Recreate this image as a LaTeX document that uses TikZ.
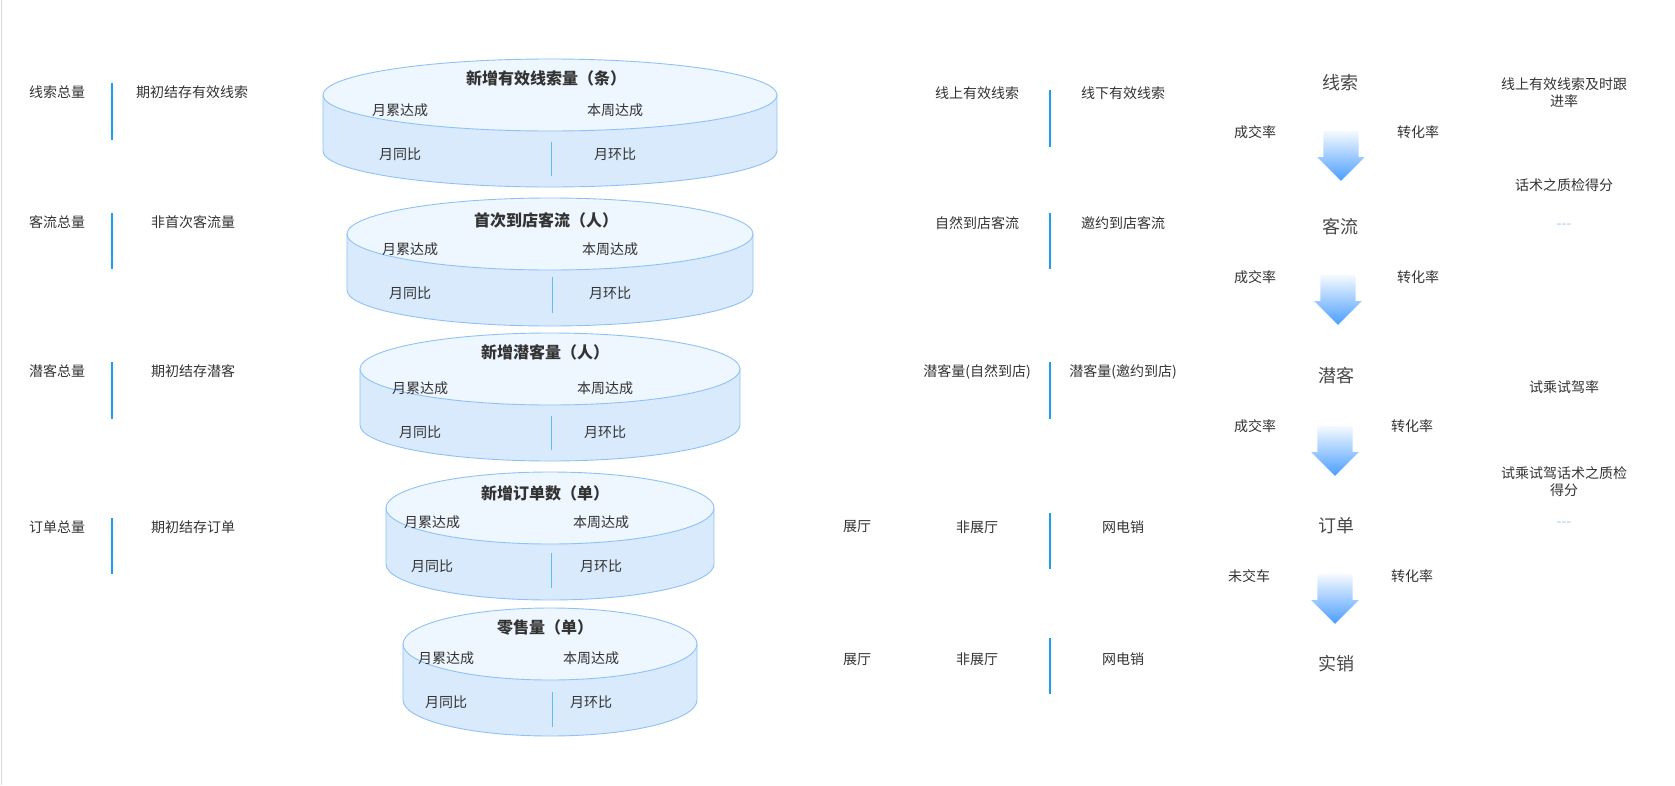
\documentclass[tikz,border=0pt]{standalone}
\usepackage{fontspec}
\setmainfont{Noto Sans CJK SC}
\usetikzlibrary{shapes.arrows}

\definecolor{barblue}{HTML}{1E9EF0}
\definecolor{cylline}{HTML}{8EC2F6}
\definecolor{cyltopfill}{HTML}{EEF6FF}
\definecolor{cylsidefill}{HTML}{D9EAFC}
\definecolor{txtgray}{HTML}{333333}
\definecolor{arrowblue}{HTML}{4A9DFF}
\definecolor{dashblue}{HTML}{9CC6F2}

\begin{document}
\begin{tikzpicture}[x=1pt, y=-1pt,
    lbl/.style={font=\fontsize{14}{17}\selectfont, text=txtgray, inner sep=0pt, align=center},
    stage/.style={font=\fontsize{18}{21}\selectfont, text=txtgray!90, inner sep=0pt},
    title/.style={font=\fontsize{16}{19}\selectfont\bfseries, text=txtgray, inner sep=0pt},
    sepbar/.style={barblue, line width=1.6pt},
    cylside/.style={draw=cylline, fill=cylsidefill, line width=0.9pt},
    cyltop/.style={draw=cylline, fill=cyltopfill, line width=0.9pt},
    cyldiv/.style={barblue!70, line width=0.8pt},
    flowarrow/.style={single arrow, rotate=-90, minimum height=50pt, minimum width=47pt,
        single arrow head extend=6pt, inner xsep=0pt, inner ysep=17.5pt,
        top color=arrowblue!5, bottom color=arrowblue}]
    \useasboundingbox (0,0) rectangle (1675,785);
    \draw[gray!30, line width=1pt] (1,0) -- (1,785);

    % left column
    \node[lbl] (tot1) at (57,92) {线索总量};
    \node[lbl] (beg1) at (192,92) {期初结存有效线索};
    \draw[sepbar] (112,83) -- (112,140);
    \node[lbl] (tot2) at (57,222) {客流总量};
    \node[lbl] (beg2) at (193,222) {非首次客流量};
    \draw[sepbar] (112,213) -- (112,269);
    \node[lbl] (tot3) at (57,371) {潜客总量};
    \node[lbl] (beg3) at (193,371) {期初结存潜客};
    \draw[sepbar] (112,362) -- (112,419);
    \node[lbl] (tot4) at (57,527) {订单总量};
    \node[lbl] (beg4) at (193,527) {期初结存订单};
    \draw[sepbar] (112,518) -- (112,574);

    % funnel
    \filldraw[cylside] (323,95) -- (323,151) arc[start angle=180, end angle=360, x radius=227pt, y radius=36pt] -- (777,95) -- cycle;
    \filldraw[cyltop] (550,95) ellipse[x radius=227pt, y radius=36pt];
    \draw[cyldiv] (551,142) -- (551,176);
    \node[title] (cyl1) at (546,78) {新增有效线索量（条）};
    \node[lbl] (cyl1a) at (400,110) {月累达成};
    \node[lbl] (cyl1b) at (615,110) {本周达成};
    \node[lbl] (cyl1c) at (400,154) {月同比};
    \node[lbl] (cyl1d) at (615,154) {月环比};

    \filldraw[cylside] (347,234) -- (347,290) arc[start angle=180, end angle=360, x radius=203pt, y radius=36pt] -- (753,234) -- cycle;
    \filldraw[cyltop] (550,234) ellipse[x radius=203pt, y radius=36pt];
    \draw[cyldiv] (552,277) -- (552,313);
    \node[title] (cyl2) at (546,220) {首次到店客流（人）};
    \node[lbl] (cyl2a) at (410,249) {月累达成};
    \node[lbl] (cyl2b) at (610,249) {本周达成};
    \node[lbl] (cyl2c) at (410,293) {月同比};
    \node[lbl] (cyl2d) at (610,293) {月环比};

    \filldraw[cylside] (360,369) -- (360,425) arc[start angle=180, end angle=360, x radius=190pt, y radius=36pt] -- (740,369) -- cycle;
    \filldraw[cyltop] (550,369) ellipse[x radius=190pt, y radius=36pt];
    \draw[cyldiv] (551,416) -- (551,450);
    \node[title] (cyl3) at (545,352) {新增潜客量（人）};
    \node[lbl] (cyl3a) at (420,388) {月累达成};
    \node[lbl] (cyl3b) at (605,388) {本周达成};
    \node[lbl] (cyl3c) at (420,432) {月同比};
    \node[lbl] (cyl3d) at (605,432) {月环比};

    \filldraw[cylside] (386,508) -- (386,564) arc[start angle=180, end angle=360, x radius=164pt, y radius=36pt] -- (714,508) -- cycle;
    \filldraw[cyltop] (550,508) ellipse[x radius=164pt, y radius=36pt];
    \draw[cyldiv] (551,553) -- (551,588);
    \node[title] (cyl4) at (545,493) {新增订单数（单）};
    \node[lbl] (cyl4a) at (432,522) {月累达成};
    \node[lbl] (cyl4b) at (601,522) {本周达成};
    \node[lbl] (cyl4c) at (432,566) {月同比};
    \node[lbl] (cyl4d) at (601,566) {月环比};

    \filldraw[cylside] (403,644) -- (403,700) arc[start angle=180, end angle=360, x radius=147pt, y radius=36pt] -- (697,644) -- cycle;
    \filldraw[cyltop] (550,644) ellipse[x radius=147pt, y radius=36pt];
    \draw[cyldiv] (552,692) -- (552,727);
    \node[title] (cyl5) at (545,627) {零售量（单）};
    \node[lbl] (cyl5a) at (446,658) {月累达成};
    \node[lbl] (cyl5b) at (591,658) {本周达成};
    \node[lbl] (cyl5c) at (446,702) {月同比};
    \node[lbl] (cyl5d) at (591,702) {月环比};

    % middle column
    \node[lbl] (src1a) at (977,93) {线上有效线索};
    \node[lbl] (src1b) at (1123,93) {线下有效线索};
    \draw[sepbar] (1050,90) -- (1050,147);
    \node[lbl] (src2a) at (977,223) {自然到店客流};
    \node[lbl] (src2b) at (1123,223) {邀约到店客流};
    \draw[sepbar] (1050,213) -- (1050,269);
    \node[lbl] (src3a) at (977,372) {潜客量(自然到店)};
    \node[lbl] (src3b) at (1123,372) {潜客量(邀约到店)};
    \draw[sepbar] (1050,362) -- (1050,419);
    \node[lbl] (src4a) at (857,527) {展厅};
    \node[lbl] (src4b) at (977,527) {非展厅};
    \node[lbl] (src4c) at (1123,527) {网电销};
    \draw[sepbar] (1050,513) -- (1050,569);
    \node[lbl] (src5a) at (857,660) {展厅};
    \node[lbl] (src5b) at (977,659) {非展厅};
    \node[lbl] (src5c) at (1123,659) {网电销};
    \draw[sepbar] (1050,638) -- (1050,694);

    % stages
    \node[stage] (lead) at (1340,83) {线索};
    \node[stage] (visit) at (1340,227) {客流};
    \node[stage] (pros) at (1336,376) {潜客};
    \node[stage] (order) at (1336,526) {订单};
    \node[stage] (sale) at (1336,664) {实销};
    \node[flowarrow] (arr1) at (1341,147) {};
    \node[flowarrow] (arr2) at (1338,291) {};
    \node[flowarrow] (arr3) at (1335,442) {};
    \node[flowarrow] (arr4) at (1335,590) {};
    \node[lbl] (deal1) at (1255,132) {成交率};
    \node[lbl] (conv1) at (1418,132) {转化率};
    \node[lbl] (deal2) at (1255,277) {成交率};
    \node[lbl] (conv2) at (1418,277) {转化率};
    \node[lbl] (deal3) at (1255,426) {成交率};
    \node[lbl] (conv3) at (1412,426) {转化率};
    \node[lbl] (deal4) at (1249,576) {未交车};
    \node[lbl] (conv4) at (1412,576) {转化率};

    % right column
    \node[lbl] (kpi1) at (1564,93) {线上有效线索及时跟\\进率};
    \node[lbl] (kpi2) at (1564,185) {话术之质检得分};
    \node[lbl, text=dashblue] (more1) at (1564,226) {-{}-{}-};
    \node[lbl] (kpi3) at (1564,387) {试乘试驾率};
    \node[lbl] (kpi4) at (1564,482) {试乘试驾话术之质检\\得分};
    \node[lbl, text=dashblue] (more2) at (1564,524) {-{}-{}-};
\end{tikzpicture}
\end{document}
